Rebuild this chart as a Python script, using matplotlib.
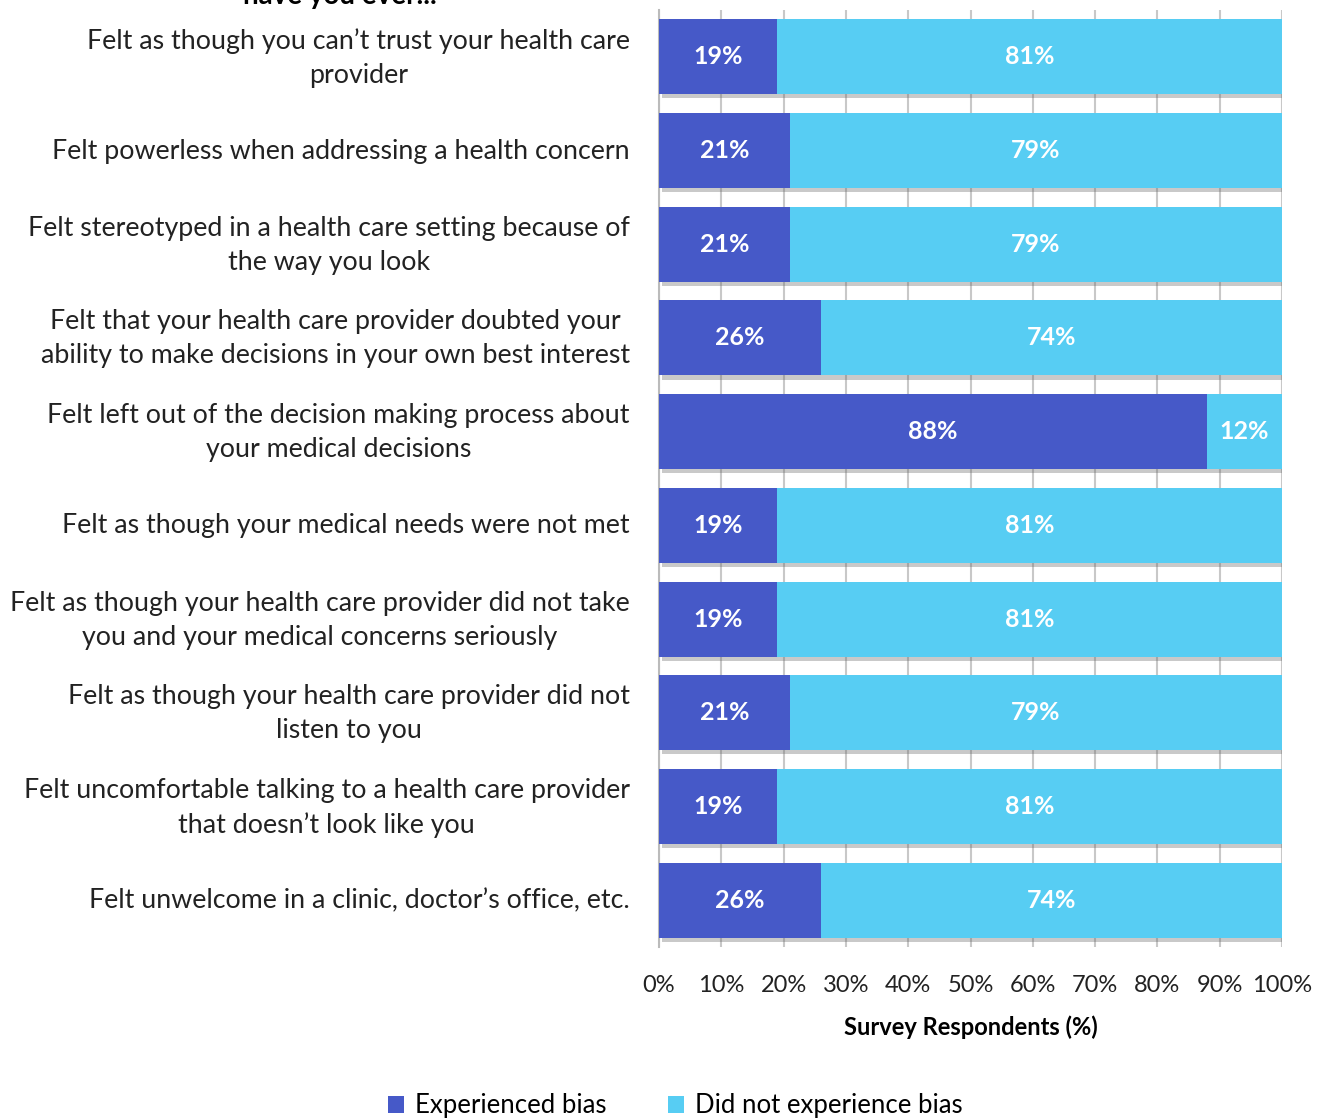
import matplotlib.pyplot as plt
import matplotlib.patheffects as pe
import matplotlib.transforms as mtransforms

plt.rcParams['font.family'] = ['Lato', 'DejaVu Sans']

# data
categories = [
    "Felt as though you can\u2019t trust your health care\nprovider",
    "Felt powerless when addressing a health concern",
    "Felt stereotyped in a health care setting because of\nthe way you look",
    "Felt that your health care provider doubted your\nability to make decisions in your own best interest",
    "Felt left out of the decision making process about\nyour medical decisions",
    "Felt as though your medical needs were not met",
    "Felt as though your health care provider did not take\nyou and your medical concerns seriously",
    "Felt as though your health care provider did not\nlisten to you",
    "Felt uncomfortable talking to a health care provider\nthat doesn\u2019t look like you",
    "Felt unwelcome in a clinic, doctor\u2019s office, etc.",
]
experienced = [19, 21, 21, 26, 88, 19, 19, 21, 19, 26]
not_experienced = [81, 79, 79, 74, 12, 81, 81, 79, 81, 74]
xticks = [0, 10, 20, 30, 40, 50, 60, 70, 80, 90, 100]

col_exp = '#4659C8'
col_not = '#57CDF3'

fig = plt.figure(figsize=(13.17, 11.18), dpi=100)
ax = fig.add_axes([659 / 1317, 1 - 947 / 1118, 623 / 1317, 937 / 1118])

y = list(range(len(categories)))
shadow = [pe.SimplePatchShadow(offset=(2, -3), shadow_rgbFace='#666666', alpha=0.35), pe.Normal()]
b1 = ax.barh(y, experienced, height=0.8, color=col_exp, label='Experienced bias', zorder=3)
b2 = ax.barh(y, not_experienced, left=experienced, height=0.8, color=col_not,
             label='Did not experience bias', zorder=3)
for b in list(b1) + list(b2):
    b.set_path_effects(shadow)

for i in y:
    ax.text(experienced[i] / 2, i, f"{experienced[i]}%", ha='center', va='center',
            color='white', fontsize=18, fontweight='bold', zorder=4)
    ax.text(experienced[i] + not_experienced[i] / 2, i, f"{not_experienced[i]}%",
            ha='center', va='center', color='white', fontsize=18, fontweight='bold', zorder=4)

ax.set_ylim(-0.5, len(categories) - 0.5)
ax.invert_yaxis()
ax.set_xlim(0, 100)
ax.set_xticks(xticks)
ax.set_xticklabels([f"{t}%" for t in xticks], fontsize=17, color='#222222')
ax.set_yticks(y)
ax.set_yticklabels(categories, fontsize=19.3, color='#222222', multialignment='center',
                   linespacing=1.45)
ax.tick_params(axis='y', length=0, pad=21)
ax.tick_params(axis='x', length=0, pad=20)

# two-line labels sit a little higher in the original
for lab in ax.get_yticklabels():
    dy = 6 if '\n' in lab.get_text() else 2
    lab.set_transform(lab.get_transform() + mtransforms.ScaledTranslation(0, dy / 100, fig.dpi_scale_trans))

ax.grid(axis='x', color='#c8c8c8', linewidth=1.5, zorder=0)
ax.set_axisbelow(True)
for s in ['top', 'right', 'bottom']:
    ax.spines[s].set_visible(False)
ax.spines['left'].set_color('#bbbbbb')
ax.spines['left'].set_linewidth(1.5)

ax.set_xlabel('Survey Respondents (%)', fontsize=17, fontweight='bold', labelpad=14)

fig.text(340 / 1317, 1 - 4 / 1118, 'have you ever...', ha='center', va='baseline',
         fontsize=20, fontweight='bold')

leg = fig.legend(loc='lower center', bbox_to_anchor=(675 / 1317, -0.021), ncol=2, frameon=False,
                 fontsize=18.5, handlelength=0.65, handleheight=0.65, columnspacing=2.4,
                 handletextpad=0.4)
for h in leg.legend_handles:
    h.set_path_effects([])

fig.savefig('out.png', dpi=100)
